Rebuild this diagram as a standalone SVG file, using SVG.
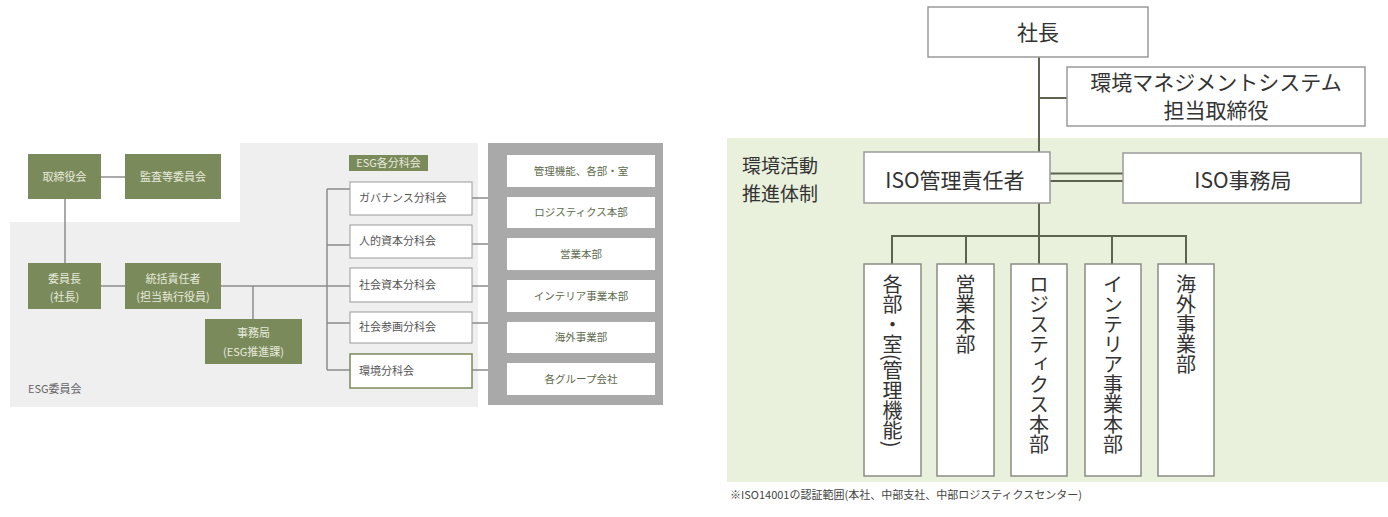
<svg xmlns="http://www.w3.org/2000/svg" width="1388" height="517" viewBox="0 0 1388 517">
<style>
text{font-family:"Noto Sans CJK JP","Noto Sans",sans-serif;}
.olive{fill:#7b8a5b;}
.ot{fill:#e6eadb;font-size:11px;text-anchor:middle;}
.sub{fill:#ffffff;stroke:#9a9a9a;stroke-width:1;}
.st{fill:#555555;font-size:11px;}
.dept{fill:#ffffff;}
.dt{fill:#5d6b4e;font-size:10.5px;text-anchor:middle;}
.ln{stroke:#8c8c8c;stroke-width:1.5;fill:none;}
.rbox{fill:#ffffff;stroke:#9a9a9a;stroke-width:1.5;}
.vbox{fill:#ffffff;stroke:#8a8c84;stroke-width:1.5;}
.rt{fill:#333333;font-size:21px;text-anchor:middle;}
.vt{fill:#333333;font-size:20px;writing-mode:vertical-rl;}
.rl{stroke:#5d6350;stroke-width:2;fill:none;}
</style>
<!-- Left: ESG committee -->
<g id="bg-esg">
<polygon points="240,143 478,143 478,407 10,407 10,222 240,222" fill="#efefef"/>
<rect x="488" y="143" width="175" height="262" fill="#a9a9a9"/>
<text x="28" y="393" font-size="11" fill="#666666">ESG委員会</text>
</g>
<g id="connectors-left">
<path class="ln" d="M101,177 H125"/>
<path class="ln" d="M65,199 V263"/>
<path class="ln" d="M101,286 H125"/>
<path class="ln" d="M221,286 H350"/>
<path class="ln" d="M253,286 V319"/>
<path class="ln" d="M327,189 V370"/>
<path class="ln" d="M327,189 H350 M327,245 H350 M327,323 H350 M327,370 H350"/>
<path class="ln" d="M472,198 H488 M472,244 H488 M472,286 H488 M472,323 H488 M472,370 H488"/>
</g>
<g id="n-torishimariyakukai"><rect class="olive" x="28" y="154" width="73" height="45"/><text class="ot" x="64.5" y="181">取締役会</text></g>
<g id="n-kansa"><rect class="olive" x="125" y="154" width="96" height="45"/><text class="ot" x="173" y="181">監査等委員会</text></g>
<g id="n-iincho"><rect class="olive" x="28" y="263" width="73" height="46"/><text class="ot" x="64.5" y="283">委員長</text><text class="ot" x="64.5" y="301">(社長)</text></g>
<g id="n-tokatsu"><rect class="olive" x="125" y="263" width="96" height="46"/><text class="ot" x="173" y="283">統括責任者</text><text class="ot" x="173" y="301">(担当執行役員)</text></g>
<g id="n-jimukyoku"><rect class="olive" x="205" y="319" width="97" height="45"/><text class="ot" x="253.5" y="337">事務局</text><text class="ot" x="253.5" y="356">(ESG推進課)</text></g>
<g id="n-esg-label"><rect class="olive" x="349" y="155" width="79" height="16"/><text class="ot" x="388.5" y="167">ESG各分科会</text></g>
<g id="n-gov"><rect class="sub" x="350" y="182" width="122" height="33"/><text class="st" x="359" y="202">ガバナンス分科会</text></g>
<g id="n-jinteki"><rect class="sub" x="350" y="225" width="122" height="33"/><text class="st" x="359" y="245">人的資本分科会</text></g>
<g id="n-shakaishihon"><rect class="sub" x="350" y="268" width="122" height="34"/><text class="st" x="359" y="289">社会資本分科会</text></g>
<g id="n-shakaisankaku"><rect class="sub" x="350" y="312" width="122" height="31"/><text class="st" x="359" y="331">社会参画分科会</text></g>
<g id="n-kankyo"><rect x="350" y="354" width="122" height="34" fill="#ffffff" stroke="#7b8a5b" stroke-width="1.5"/><text class="st" x="359" y="375" fill="#5d6b4e">環境分科会</text></g>
<g id="n-kanri"><rect class="dept" x="507" y="155" width="148" height="32"/><text class="dt" x="581" y="175">管理機能、各部・室</text></g>
<g id="n-logi"><rect class="dept" x="507" y="197" width="148" height="31"/><text class="dt" x="581" y="216">ロジスティクス本部</text></g>
<g id="n-eigyo"><rect class="dept" x="507" y="238" width="148" height="32"/><text class="dt" x="581" y="258">営業本部</text></g>
<g id="n-interior"><rect class="dept" x="507" y="280" width="148" height="32"/><text class="dt" x="581" y="300">インテリア事業本部</text></g>
<g id="n-kaigai"><rect class="dept" x="507" y="322" width="148" height="31"/><text class="dt" x="581" y="341">海外事業部</text></g>
<g id="n-group"><rect class="dept" x="507" y="363" width="148" height="32"/><text class="dt" x="581" y="383">各グループ会社</text></g>
<!-- Right: environmental system -->
<g id="bg-env">
<rect x="727" y="138" width="661" height="344" fill="#e9f1dd"/>
<text x="742" y="173" font-size="19" fill="#333333">環境活動</text>
<text x="742" y="201" font-size="19" fill="#333333">推進体制</text>
<text x="730" y="499" font-size="11" fill="#444444">※ISO14001の認証範囲(本社、中部支社、中部ロジスティクスセンター)</text>
</g>
<g id="connectors-right">
<path class="rl" d="M1039,57 V152"/>
<path class="rl" d="M1039,98 H1067"/>
<path class="rl" d="M1050,173.5 H1123 M1050,181 H1123"/>
<path class="rl" d="M1039,203 V236"/>
<path class="rl" d="M892,236 H1186"/>
<path class="rl" d="M892,235 V264 M966,236 V264 M1039,236 V264 M1112,236 V264 M1186,235 V264"/>
</g>
<g id="n-shacho"><rect class="rbox" x="928" y="7" width="220" height="50"/><text class="rt" x="1038" y="40">社長</text></g>
<g id="n-ems"><rect class="rbox" x="1067" y="67" width="298" height="59"/><text class="rt" x="1216" y="90">環境マネジメントシステム</text><text class="rt" x="1216" y="118">担当取締役</text></g>
<g id="n-iso-mgr"><rect class="rbox" x="864" y="152" width="186" height="51"/><text class="rt" x="955" y="188" font-size="22">ISO管理責任者</text></g>
<g id="n-iso-office"><rect class="rbox" x="1123" y="153" width="238" height="50"/><text class="rt" x="1243" y="188" font-size="22">ISO事務局</text></g>
<g id="n-v1"><rect class="vbox" x="864" y="264" width="57" height="212"/><text class="vt" x="892.5" y="274">各部・室(管理機能)</text></g>
<g id="n-v2"><rect class="vbox" x="937" y="264" width="57" height="212"/><text class="vt" x="965.5" y="274">営業本部</text></g>
<g id="n-v3"><rect class="vbox" x="1011" y="264" width="56" height="212"/><text class="vt" x="1039" y="274">ロジスティクス本部</text></g>
<g id="n-v4"><rect class="vbox" x="1085" y="264" width="56" height="212"/><text class="vt" x="1113" y="274">インテリア事業本部</text></g>
<g id="n-v5"><rect class="vbox" x="1158" y="264" width="56" height="212"/><text class="vt" x="1186" y="274">海外事業部</text></g>
</svg>
